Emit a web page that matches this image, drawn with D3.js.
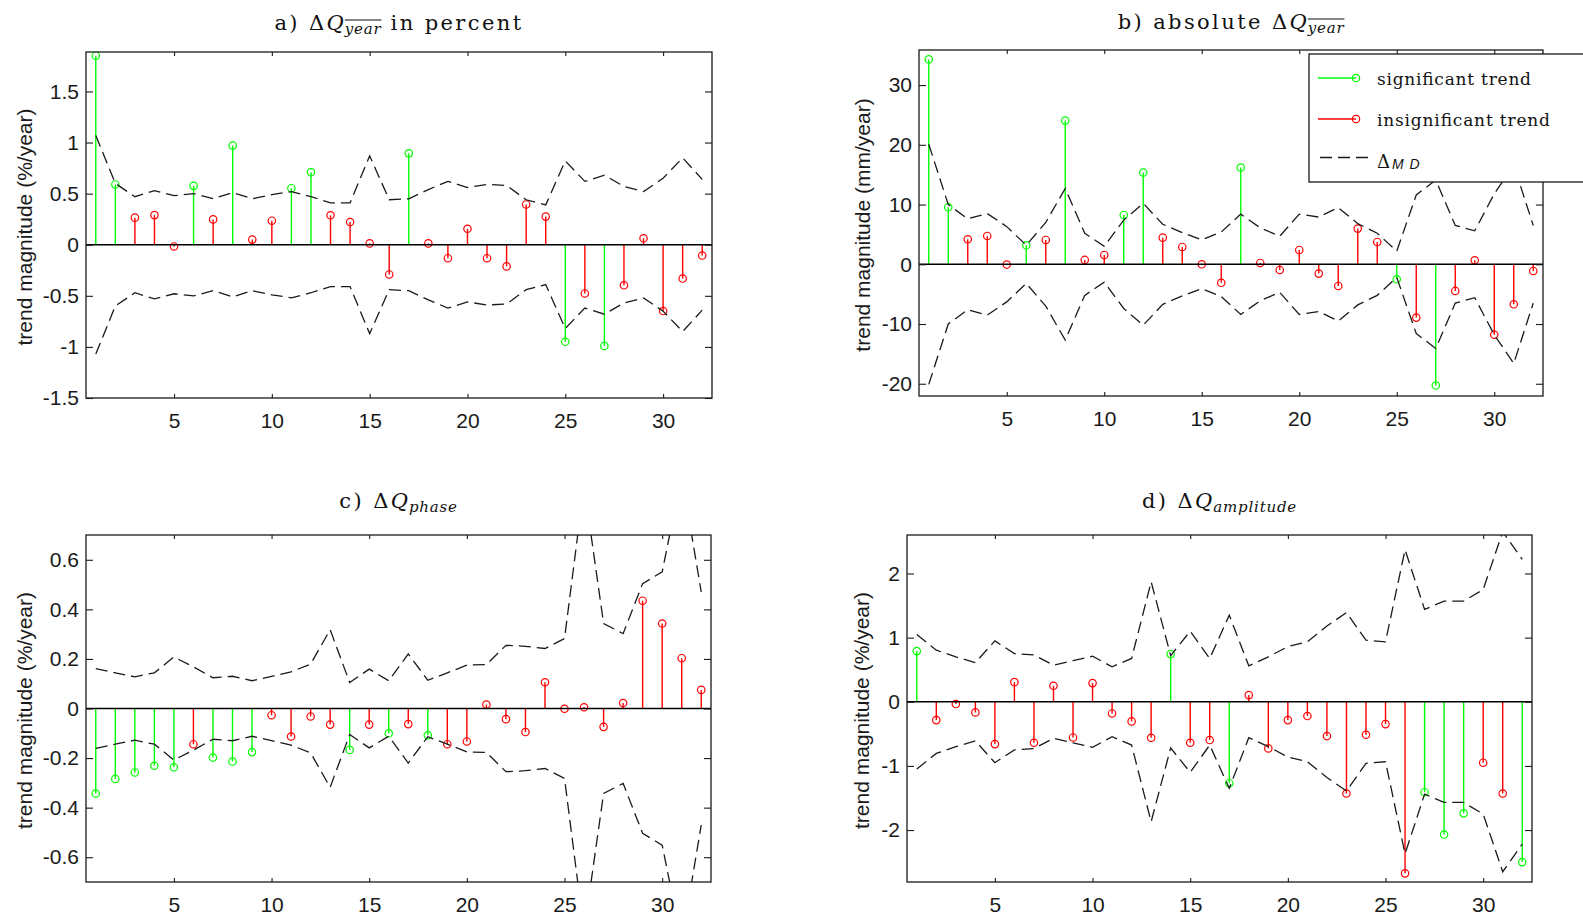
<!DOCTYPE html>
<html>
<head>
<meta charset="utf-8">
<script src="https://d3js.org/d3.v7.min.js"></script>
<style>
  body { margin: 0; background: #fff; }
  svg { display: block; }
</style>
</head>
<body>
<svg width="1583" height="920"></svg>
<script>
// catchment index on the x axis
const stations = [1, 2, 3, 4, 5, 6, 7, 8, 9, 10, 11, 12, 13, 14, 15, 16,
                  17, 18, 19, 20, 21, 22, 23, 24, 25, 26, 27, 28, 29, 30, 31, 32];
const xTicks = [5, 10, 15, 20, 25, 30];

// a) yearly mean, percent
const trendA = [1.85, 0.59, 0.265, 0.29, -0.017, 0.576, 0.248, 0.97, 0.05, 0.235, 0.553, 0.709, 0.288, 0.222, 0.013, -0.291,
                0.894, 0.013, -0.132, 0.156, -0.132, -0.212, 0.394, 0.275, -0.95, -0.477, -0.99, -0.397, 0.063, -0.649, -0.331, -0.106];
const sigA = [1, 1, 0, 0, 0, 1, 0, 1, 0, 0, 1, 1, 0, 0, 0, 0, 1, 0, 0, 0, 0, 0, 0, 0, 1, 0, 1, 0, 0, 0, 0, 0];
const mdA = [1.07, 0.60, 0.47, 0.53, 0.48, 0.50, 0.45, 0.51, 0.45, 0.49, 0.52, 0.47, 0.41, 0.41, 0.87, 0.44,
             0.45, 0.54, 0.62, 0.56, 0.59, 0.58, 0.44, 0.39, 0.82, 0.62, 0.68, 0.57, 0.52, 0.65, 0.85, 0.64];
const yTicksA = [-1.5, -1, -0.5, 0, 0.5, 1, 1.5];

// b) yearly mean, absolute
const trendB = [34.3, 9.54, 4.19, 4.74, -0.05, 3.18, 4.07, 24.05, 0.73, 1.56, 8.26, 15.35, 4.46, 2.9, 0.0, -3.1,
                16.2, 0.22, -0.95, 2.4, -1.56, -3.63, 5.97, 3.74, -2.51, -8.93, -20.3, -4.46, 0.67, -11.8, -6.7, -1.12];
const sigB = [1, 1, 0, 0, 0, 1, 0, 1, 0, 0, 1, 1, 0, 0, 0, 0, 1, 0, 0, 0, 0, 0, 0, 0, 1, 0, 1, 0, 0, 0, 0, 0];
const mdB = [20.1, 10.0, 7.6, 8.5, 6.3, 3.2, 7.0, 12.7, 5.2, 3.0, 7.4, 10.2, 6.7, 5.3, 4.1, 5.4,
             8.4, 6.1, 4.7, 8.4, 7.9, 9.5, 6.8, 5.2, 2.2, 11.6, 14.1, 6.5, 5.6, 11.8, 16.6, 6.5];
const yTicksB = [-20, -10, 0, 10, 20, 30];

// c) phase
const trendC = [-0.343, -0.284, -0.258, -0.231, -0.237, -0.144, -0.198, -0.214, -0.176, -0.027, -0.113, -0.032, -0.065, -0.167, -0.065, -0.10,
                -0.063, -0.108, -0.144, -0.133, 0.016, -0.043, -0.095, 0.106, -0.001, 0.005, -0.074, 0.022, 0.435, 0.343, 0.203, 0.075];
const sigC = [1, 1, 1, 1, 1, 0, 1, 1, 1, 0, 0, 0, 0, 1, 0, 1, 0, 1, 0, 0, 0, 0, 0, 0, 0, 0, 0, 0, 0, 0, 0, 0];
const mdC = [0.161, 0.144, 0.128, 0.144, 0.208, 0.168, 0.124, 0.130, 0.112, 0.130, 0.148, 0.179, 0.318, 0.105, 0.159, 0.112,
             0.22, 0.114, 0.144, 0.175, 0.177, 0.255, 0.251, 0.242, 0.282, 0.9, 0.343, 0.302, 0.504, 0.551, 0.94, 0.47];
const yTicksC = [-0.6, -0.4, -0.2, 0, 0.2, 0.4, 0.6];

// d) amplitude
const trendD = [0.79, -0.286, -0.036, -0.166, -0.66, 0.306, -0.639, 0.249, -0.556, 0.291, -0.182, -0.306, -0.561, 0.743, -0.639, -0.597,
                -1.27, 0.104, -0.727, -0.286, -0.223, -0.535, -1.43, -0.514, -0.348, -2.675, -1.41, -2.07, -1.74, -0.95, -1.43, -2.50];
const sigD = [1, 0, 0, 0, 0, 0, 0, 0, 0, 0, 0, 0, 0, 1, 0, 0, 1, 0, 0, 0, 0, 0, 0, 0, 0, 0, 1, 1, 1, 0, 0, 1];
const mdD = [1.05, 0.805, 0.70, 0.61, 0.95, 0.75, 0.73, 0.57, 0.64, 0.71, 0.545, 0.675, 1.87, 0.72, 1.10, 0.675,
             1.35, 0.56, 0.70, 0.86, 0.935, 1.18, 1.39, 0.96, 0.935, 2.37, 1.44, 1.57, 1.57, 1.75, 2.65, 2.22];
const yTicksD = [-2, -1, 0, 1, 2];

// titles: [text, kind]  kind: n = normal, i = italic, s = subscript, o = subscript with bar
const titleA = [["a) ", "n"], ["\u0394", "n"], ["Q", "i"], ["year", "o"], [" in percent", "n"]];
const titleB = [["b) absolute ", "n"], ["\u0394", "n"], ["Q", "i"], ["year", "o"]];
const titleC = [["c) ", "n"], ["\u0394", "n"], ["Q", "i"], ["phase", "s"]];
const titleD = [["d) ", "n"], ["\u0394", "n"], ["Q", "i"], ["amplitude", "s"]];

const yLabelPct = "trend magnitude (%/year)";
const yLabelMm = "trend magnitude (mm/year)";
const legendLabels = ["significant trend", "insignificant trend"];

const GREEN = "#00ff00", RED = "#ff0000", INK = "#1a1a1a";
const svg = d3.select("svg");

const panels = [
  { id: "a", values: trendA, sig: sigA, md: mdA, yTicks: yTicksA, yDomain: [-1.5, 1.886], title: titleA, yLabel: yLabelPct,
    left: 86, top: 52, right: 712, bottom: 398, titleY: 30, labelX: 32 },
  { id: "b", values: trendB, sig: sigB, md: mdB, yTicks: yTicksB, yDomain: [-22.05, 35.87], title: titleB, yLabel: yLabelMm,
    left: 919, top: 50, right: 1543, bottom: 396, titleY: 29, labelX: 870 },
  { id: "c", values: trendC, sig: sigC, md: mdC, yTicks: yTicksC, yDomain: [-0.70, 0.70], title: titleC, yLabel: yLabelPct,
    left: 86, top: 535, right: 711, bottom: 882, titleY: 508, labelX: 32 },
  { id: "d", values: trendD, sig: sigD, md: mdD, yTicks: yTicksD, yDomain: [-2.81, 2.6], title: titleD, yLabel: yLabelPct,
    left: 907, top: 535, right: 1532, bottom: 882, titleY: 508, labelX: 869 }
];

panels.forEach(drawPanel);
drawLegend(panels[1]);

function drawPanel(p) {
  const x = d3.scaleLinear().domain([0.5, 32.5]).range([p.left, p.right]);
  const y = d3.scaleLinear().domain(p.yDomain).range([p.bottom, p.top]);
  const g = svg.append("g").attr("class", "panel-" + p.id);

  svg.append("clipPath").attr("id", "clip-" + p.id)
    .append("rect")
    .attr("x", p.left).attr("y", p.top)
    .attr("width", p.right - p.left).attr("height", p.bottom - p.top);

  const plot = g.append("g").attr("clip-path", "url(#clip-" + p.id + ")");

  const pts = stations.map((s, i) => ({ s: s, v: p.values[i], sig: p.sig[i] }));

  // stems
  plot.selectAll("line.stem")
    .data(pts)
    .enter().append("line")
    .attr("class", "stem")
    .attr("x1", d => x(d.s)).attr("x2", d => x(d.s))
    .attr("y1", y(0)).attr("y2", d => y(d.v))
    .attr("stroke", d => d.sig ? GREEN : RED)
    .attr("stroke-width", 1.4);

  plot.selectAll("circle.head")
    .data(pts)
    .enter().append("circle")
    .attr("class", "head")
    .attr("cx", d => x(d.s)).attr("cy", d => y(d.v))
    .attr("r", 3.7)
    .attr("fill", "none")
    .attr("stroke", d => d.sig ? GREEN : RED)
    .attr("stroke-width", 1.2);

  // zero baseline
  plot.append("line")
    .attr("x1", p.left).attr("x2", p.right)
    .attr("y1", y(0)).attr("y2", y(0))
    .attr("stroke", "#000").attr("stroke-width", 1.4);

  // +/- Delta_MD bounds
  const line = d3.line().x((d, i) => x(stations[i])).y(d => y(d));
  [1, -1].forEach(sign => {
    plot.append("path")
      .datum(p.md.map(v => sign * v))
      .attr("d", line)
      .attr("fill", "none")
      .attr("stroke", INK)
      .attr("stroke-width", 1.3)
      .attr("stroke-dasharray", "12,6");
  });

  // axes, ticks pointing inward
  const fmt = d => String(d);
  const styleAxis = sel => {
    sel.select(".domain").remove();
    sel.attr("color", INK)
      .attr("font-size", 21)
      .attr("font-family", "'Liberation Sans', Arial, sans-serif");
    sel.selectAll(".tick line").attr("stroke-width", 1.1);
  };

  g.append("g").attr("transform", "translate(" + p.left + ",0)")
    .call(d3.axisLeft(y).tickValues(p.yTicks).tickSizeInner(-7).tickSizeOuter(0).tickPadding(7).tickFormat(fmt))
    .call(styleAxis);
  g.append("g").attr("transform", "translate(" + p.right + ",0)")
    .call(d3.axisRight(y).tickValues(p.yTicks).tickSizeInner(-7).tickSizeOuter(0).tickFormat(""))
    .call(styleAxis);
  g.append("g").attr("transform", "translate(0," + p.bottom + ")")
    .call(d3.axisBottom(x).tickValues(xTicks).tickSizeInner(-4).tickSizeOuter(0).tickPadding(15).tickFormat(fmt))
    .call(styleAxis);
  g.append("g").attr("transform", "translate(0," + p.top + ")")
    .call(d3.axisTop(x).tickValues(xTicks).tickSizeInner(-4).tickSizeOuter(0).tickFormat(""))
    .call(styleAxis);

  g.append("rect")
    .attr("x", p.left).attr("y", p.top)
    .attr("width", p.right - p.left).attr("height", p.bottom - p.top)
    .attr("fill", "none")
    .attr("stroke", INK)
    .attr("stroke-width", 1.3);

  // y label
  const cy = (p.top + p.bottom) / 2 + 2;
  g.append("text")
    .attr("transform", "translate(" + p.labelX + "," + cy + ") rotate(-90)")
    .attr("text-anchor", "middle")
    .attr("font-family", "'Liberation Sans', Arial, sans-serif")
    .attr("font-size", 21)
    .attr("fill", INK)
    .text(p.yLabel);

  // title
  const t = g.append("text")
    .attr("x", (p.left + p.right) / 2)
    .attr("y", p.titleY)
    .attr("text-anchor", "middle")
    .attr("font-family", "'DejaVu Serif', serif")
    .attr("font-size", 21)
    .attr("fill", "#111");

  let shifted = false;
  const barred = [];
  p.title.forEach(([txt, kind]) => {
    const span = t.append("tspan").text(txt);
    if (kind === "i") span.attr("font-style", "italic").attr("letter-spacing", 1);
    if (kind === "s" || kind === "o") {
      span.attr("font-style", "italic").attr("font-size", 15).attr("dy", 4).attr("letter-spacing", 0.8);
      shifted = true;
      if (kind === "o") barred.push(span.node());
    } else if (kind === "n") {
      span.attr("letter-spacing", 2.4);
      if (shifted) { span.attr("dy", -4); shifted = false; }
    }
  });

  barred.forEach(node => {
    const start = node.getStartPositionOfChar(0);
    const len = node.getComputedTextLength();
    g.append("line")
      .attr("x1", start.x).attr("x2", start.x + len)
      .attr("y1", p.titleY - 10).attr("y2", p.titleY - 10)
      .attr("stroke", "#111").attr("stroke-width", 1.2);
  });
}

function drawLegend(p) {
  const lg = svg.append("g").attr("class", "legend");
  lg.append("rect")
    .attr("x", 1309).attr("y", 54)
    .attr("width", 300).attr("height", 128)
    .attr("fill", "#fff")
    .attr("stroke", INK)
    .attr("stroke-width", 1.3);

  const rows = [
    { label: legendLabels[0], color: GREEN, y: 78 },
    { label: legendLabels[1], color: RED, y: 119 }
  ];
  rows.forEach(r => {
    lg.append("line")
      .attr("x1", 1318).attr("x2", 1356)
      .attr("y1", r.y).attr("y2", r.y)
      .attr("stroke", r.color).attr("stroke-width", 1.4);
    lg.append("circle")
      .attr("cx", 1356).attr("cy", r.y).attr("r", 3.7)
      .attr("fill", "none").attr("stroke", r.color).attr("stroke-width", 1.2);
    lg.append("text")
      .attr("x", 1377).attr("y", r.y + 7)
      .attr("font-family", "'DejaVu Serif', serif")
      .attr("font-size", 17)
      .attr("fill", "#111")
      .attr("textLength", r.label === legendLabels[0] ? 154 : 173)
      .attr("lengthAdjust", "spacing")
      .text(r.label);
  });

  lg.append("line")
    .attr("x1", 1320).attr("x2", 1373)
    .attr("y1", 157.5).attr("y2", 157.5)
    .attr("stroke", INK).attr("stroke-width", 1.3)
    .attr("stroke-dasharray", "12,6");

  const dm = lg.append("text")
    .attr("x", 1377).attr("y", 168)
    .attr("font-family", "'DejaVu Serif', serif")
    .attr("font-size", 18)
    .attr("fill", "#111");
  dm.append("tspan").text("\u0394");
  dm.append("tspan")
    .attr("font-family", "'Liberation Sans', Arial, sans-serif")
    .attr("font-style", "italic")
    .attr("font-size", 14)
    .attr("dx", 2)
    .attr("dy", 1)
    .attr("letter-spacing", 1)
    .text("M D");
}
</script>
</body>
</html>
